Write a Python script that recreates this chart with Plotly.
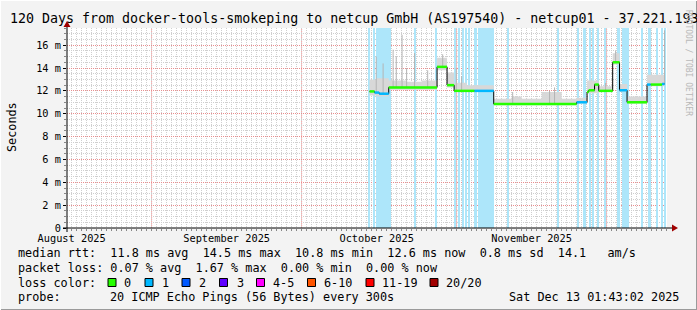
import plotly.graph_objects as go
import pandas as pd

# ---------------- data ----------------
X_START = "2025-08-15 01:43:02"
X_END = "2025-12-13 01:43:02"
Y_TOP = 17.5

month_starts = ["2025-09-01", "2025-10-01", "2025-11-01", "2025-12-01"]
month_label_dates = ["2025-08-16", "2025-09-16", "2025-10-16", "2025-11-16"]
month_labels = ["August 2025", "September 2025", "October 2025", "November 2025"]

y_tick_vals = [0, 2, 4, 6, 8, 10, 12, 14, 16]
y_tick_text = ["0", "2 m", "4 m", "6 m", "8 m", "10 m", "12 m", "14 m", "16 m"]

# median rtt (ms) steps: start time, value, loss count
median_t = ["2025-10-14 14:00", "2025-10-15 14:00", "2025-10-16 12:00", "2025-10-18 10:00",
            "2025-10-28 02:00", "2025-10-30 02:00", "2025-10-31 12:00", "2025-11-04 14:00",
            "2025-11-08 10:00", "2025-11-25 00:00", "2025-11-27 02:00", "2025-11-27 10:00",
            "2025-11-28 14:00", "2025-11-29 10:00", "2025-12-02 05:00", "2025-12-03 14:00",
            "2025-12-05 02:00", "2025-12-09 02:00", "2025-12-09 19:00", "2025-12-12 02:00",
            "2025-12-12 14:00"]
median_v = [11.95, 11.85, 11.75, 12.3,
            14.1, 12.5, 12.0, 12.0,
            10.85, 11.0, 11.9, 12.05,
            12.55, 12.0, 14.5, 12.05,
            11.0, 12.55, 12.55, 12.6,
            12.6]
median_loss = [0, 1, 1, 0,
               0, 0, 0, 1,
               0, 1, 0, 0,
               0, 0, 0, 1,
               0, 1, 0, 1,
               1]

# smoke (ping spread) steps: start time, low, high (ms)
smoke_t = ["2025-10-14 14:00", "2025-10-16 00:00", "2025-10-18 10:00", "2025-10-22 00:00",
           "2025-10-25 00:00", "2025-10-28 02:00", "2025-10-30 02:00", "2025-10-31 12:00",
           "2025-11-03 00:00", "2025-11-08 10:00", "2025-11-12 00:00", "2025-11-14 00:00",
           "2025-11-18 00:00", "2025-11-22 00:00", "2025-11-25 00:00", "2025-11-27 02:00",
           "2025-11-29 10:00", "2025-12-02 05:00", "2025-12-03 14:00", "2025-12-05 02:00",
           "2025-12-09 02:00", "2025-12-12 14:00"]
smoke_lo = [11.6, 11.5, 12.1, 12.1, 12.1, 13.8, 12.3, 11.9, 11.9, 10.75, 10.75, 10.75,
            10.75, 10.75, 10.9, 11.8, 11.9, 14.3, 11.9, 10.9, 12.4, 12.4]
smoke_hi = [13.0, 13.1, 12.9, 12.8, 12.9, 14.9, 13.6, 12.7, 12.5, 11.3, 11.5, 11.3,
            11.9, 11.3, 11.4, 12.9, 12.4, 15.3, 12.6, 11.5, 13.4, 13.4]

# single-interval ping spikes: time, top (ms)
spike_t = ["2025-10-15 22:00", "2025-10-17 07:00", "2025-10-19 07:00", "2025-10-19 22:00",
           "2025-10-21 02:00", "2025-10-22 00:00", "2025-10-23 14:00", "2025-10-26 05:00",
           "2025-10-29 05:00", "2025-10-31 22:00", "2025-11-02 00:00", "2025-11-12 05:00",
           "2025-11-19 14:00", "2025-11-20 14:00", "2025-11-30 19:00", "2025-12-02 19:00",
           "2025-12-12 14:00"]
spike_top = [15.0, 14.4, 15.6, 15.0, 16.9, 14.0, 15.3, 13.8, 15.2, 14.0, 13.3, 11.9,
             12.0, 12.3, 12.7, 15.5, 17.3]

# loss periods (full-height bars)
loss_start = ["2025-10-14 10:00", "2025-10-15 10:00", "2025-10-15 22:00", "2025-10-23 14:00",
              "2025-10-27 19:00", "2025-10-31 14:00", "2025-11-01 10:00", "2025-11-02 05:00",
              "2025-11-02 19:00", "2025-11-03 07:00", "2025-11-04 12:00", "2025-11-05 07:00",
              "2025-11-11 02:00", "2025-11-21 05:00", "2025-11-25 02:00", "2025-11-26 05:00",
              "2025-11-27 14:00", "2025-11-28 05:00", "2025-11-29 05:00", "2025-11-30 14:00",
              "2025-12-03 00:00", "2025-12-04 02:00", "2025-12-07 22:00", "2025-12-09 05:00",
              "2025-12-10 22:00", "2025-12-11 22:00", "2025-12-12 12:00"]
loss_end = ["2025-10-14 14:00", "2025-10-15 17:00", "2025-10-18 19:00", "2025-10-23 19:00",
            "2025-10-28 02:00", "2025-10-31 19:00", "2025-11-01 17:00", "2025-11-02 12:00",
            "2025-11-03 00:00", "2025-11-03 14:00", "2025-11-05 02:00", "2025-11-08 12:00",
            "2025-11-11 10:00", "2025-11-21 12:00", "2025-11-25 07:00", "2025-11-26 19:00",
            "2025-11-27 19:00", "2025-11-28 10:00", "2025-11-29 10:00", "2025-11-30 19:00",
            "2025-12-03 14:00", "2025-12-05 10:00", "2025-12-08 02:00", "2025-12-09 19:00",
            "2025-12-11 02:00", "2025-12-12 02:00", "2025-12-12 17:00"]

loss_labels = ["0", "1", "2", "3", "4-5", "6-10", "11-19", "20/20"]
loss_colors = ["#26ff00", "#00b8ff", "#0059ff", "#5e00ff", "#ff00ff", "#ff5500", "#ff0000", "#a10000"]

stats_line = "median rtt:  11.8 ms avg  14.5 ms max  10.8 ms min  12.6 ms now  0.8 ms sd  14.1   am/s"
loss_line = "packet loss: 0.07 % avg  1.67 % max  0.00 % min  0.00 % now"
probe_text = "20 ICMP Echo Pings (56 Bytes) every 300s"
date_text = "Sat Dec 13 01:43:02 2025"
title_text = "120 Days from docker-tools-smokeping to netcup GmbH (AS197540) - netcup01 - 37.221.193"

# ---------------- helpers ----------------
MONO = "DejaVu Sans Mono"
PL, PR, PT, PB = 67, 667, 28, 228  # plot area pixel box
W, H = 697, 310


def px(x):
    return (x - PL) / (PR - PL)


def py(y):
    return (PB - y) / (PB - PT)


def nb(s):
    return s.replace(" ", "\u00a0")


fig = go.Figure()

# loss bars
ls = pd.to_datetime(pd.Series(loss_start))
le = pd.to_datetime(pd.Series(loss_end))
centers = ls + (le - ls) / 2
widths = ((le - ls).dt.total_seconds() * 1000).tolist()
fig.add_trace(go.Bar(x=centers, y=[Y_TOP] * len(centers), base=0, width=widths,
                     marker=dict(color="#ade6fa", line=dict(width=0)), hoverinfo="skip"))

# smoke
fig.add_trace(go.Scatter(x=smoke_t, y=smoke_lo, mode="lines", line=dict(width=0, shape="hv"),
                         hoverinfo="skip"))
fig.add_trace(go.Scatter(x=smoke_t, y=smoke_hi, mode="lines", line=dict(width=0, shape="hv"),
                         fill="tonexty", fillcolor="#d8d8d8", hoverinfo="skip"))

# spikes
mser = pd.Series(median_v, index=pd.to_datetime(median_t))
sx, sy = [], []
for t, top in zip(spike_t, spike_top):
    base = float(mser.asof(pd.Timestamp(t)))
    sx += [t, t, None]
    sy += [base, top, None]
fig.add_trace(go.Scatter(x=sx, y=sy, mode="lines", line=dict(color="#b4b4b4", width=1),
                         hoverinfo="skip"))

# median black step line
fig.add_trace(go.Scatter(x=median_t, y=median_v, mode="lines",
                         line=dict(color="black", width=1, shape="hv"), hoverinfo="skip"))

# median coloured by loss
for lv in sorted(set(median_loss)):
    xs, ys = [], []
    for i in range(len(median_t) - 1):
        if median_loss[i] == lv:
            xs += [median_t[i], median_t[i + 1], None]
            ys += [median_v[i], median_v[i], None]
    fig.add_trace(go.Scatter(x=xs, y=ys, mode="lines",
                             line=dict(color=loss_colors[lv], width=2.5), hoverinfo="skip"))

shapes = []
# month-start major grid lines
for m in month_starts:
    shapes.append(dict(type="line", xref="x", yref="paper", x0=m, x1=m, y0=0, y1=1,
                       line=dict(color="rgba(255,90,90,0.55)", width=1, dash="1px,1px"),
                       layer="below"))
# axes
shapes.append(dict(type="line", xref="paper", yref="paper", x0=px(63), x1=px(673), y0=0, y1=0,
                   line=dict(color="black", width=1)))
shapes.append(dict(type="line", xref="paper", yref="paper", x0=0, x1=0, y0=py(232), y1=py(25),
                   line=dict(color="black", width=1)))
shapes.append(dict(type="path", xref="paper", yref="paper",
                   path=f"M {px(672)} {py(224.5)} L {px(678)} {py(228)} L {px(672)} {py(231.5)} Z",
                   fillcolor="#a00000", line=dict(width=0)))
shapes.append(dict(type="path", xref="paper", yref="paper",
                   path=f"M {px(63.5)} {py(27)} L {px(67)} {py(21)} L {px(70.5)} {py(27)} Z",
                   fillcolor="#a00000", line=dict(width=0)))
# frame
shapes.append(dict(type="line", xref="paper", yref="paper", x0=px(0), x1=px(697), y0=py(309.5), y1=py(309.5),
                   line=dict(color="#9a9a9a", width=1)))
shapes.append(dict(type="line", xref="paper", yref="paper", x0=px(696.5), x1=px(696.5), y0=py(0), y1=py(310),
                   line=dict(color="#9a9a9a", width=1)))
shapes.append(dict(type="line", xref="paper", yref="paper", x0=px(0), x1=px(697), y0=py(0.5), y1=py(0.5),
                   line=dict(color="#ffffff", width=1)))
shapes.append(dict(type="line", xref="paper", yref="paper", x0=px(0.5), x1=px(0.5), y0=py(0), y1=py(310),
                   line=dict(color="#ffffff", width=1)))

# loss color legend boxes
box_left = [108, 145, 182, 219.5, 256.5, 307.5, 366, 430]
label_left = [122, 160, 197, 234.5, 271, 322, 380, 444]
annotations = []
for bl, ll, lab, col in zip(box_left, label_left, loss_labels, loss_colors):
    shapes.append(dict(type="rect", xref="paper", yref="paper", x0=px(bl), x1=px(bl + 8),
                       y0=py(286.5), y1=py(278.5), fillcolor=col, line=dict(color="black", width=1)))
    annotations.append(dict(text=lab, x=px(ll), y=py(282.5), xref="paper", yref="paper",
                            xanchor="left", yanchor="middle", showarrow=False,
                            font=dict(family=MONO, size=11.8, color="black")))

txt = dict(xref="paper", yref="paper", showarrow=False, yanchor="middle",
           font=dict(family=MONO, size=11.8, color="black"))
annotations += [
    dict(text=nb(title_text), x=px(8), y=py(18.5), xanchor="left", **{k: v for k, v in txt.items() if k != "font"},
         font=dict(family=MONO, size=13.3, color="black")),
    dict(text="Seconds", x=px(12), y=py(127), xanchor="center", textangle=-90, **txt),
    dict(text=nb(stats_line), x=px(16), y=py(253), xanchor="left", **txt),
    dict(text=nb(loss_line), x=px(16), y=py(267.5), xanchor="left", **txt),
    dict(text=nb("loss color:"), x=px(16), y=py(282.5), xanchor="left", **txt),
    dict(text="probe:", x=px(16), y=py(297), xanchor="left", **txt),
    dict(text=nb(probe_text), x=px(108), y=py(297), xanchor="left", **txt),
    dict(text=nb(date_text), x=px(681), y=py(297), xanchor="right", **txt),
    dict(text=nb("RRDTOOL / TOBI OETIKER"), x=px(689), y=py(63), xanchor="center", textangle=90,
         xref="paper", yref="paper", showarrow=False, yanchor="middle",
         font=dict(family=MONO, size=8, color="#b8b8b8")),
]

fig.update_layout(
    width=W, height=H,
    margin=dict(l=PL, r=W - PR, t=PT, b=H - PB, pad=0),
    paper_bgcolor="#f3f3f3", plot_bgcolor="white",
    showlegend=False, bargap=0,
    shapes=shapes, annotations=annotations,
    xaxis=dict(type="date", range=[X_START, X_END], tickvals=month_label_dates, ticktext=month_labels,
               ticks="", showgrid=False, zeroline=False, showline=False, ticklabelstandoff=3,
               tickfont=dict(family=MONO, size=10.3, color="black"),
               minor=dict(dtick=86400000, tick0="2025-08-16", showgrid=True, gridcolor="#cfcfcf",
                          griddash="1px,1px", gridwidth=1, ticks="outside", ticklen=2, tickcolor="#888")),
    yaxis=dict(range=[0, Y_TOP], tickvals=y_tick_vals, ticktext=y_tick_text, ticks="outside",
               ticklen=3, tickcolor="black", showgrid=True, gridcolor="rgba(255,90,90,0.55)",
               griddash="1px,1px", gridwidth=1, zeroline=False, showline=False,
               tickfont=dict(family=MONO, size=10.3, color="black"),
               minor=dict(dtick=0.5, showgrid=True, gridcolor="#cfcfcf", griddash="1px,1px",
                          ticks="outside", ticklen=2, tickcolor="#888")),
)

fig.write_html("out.html")
